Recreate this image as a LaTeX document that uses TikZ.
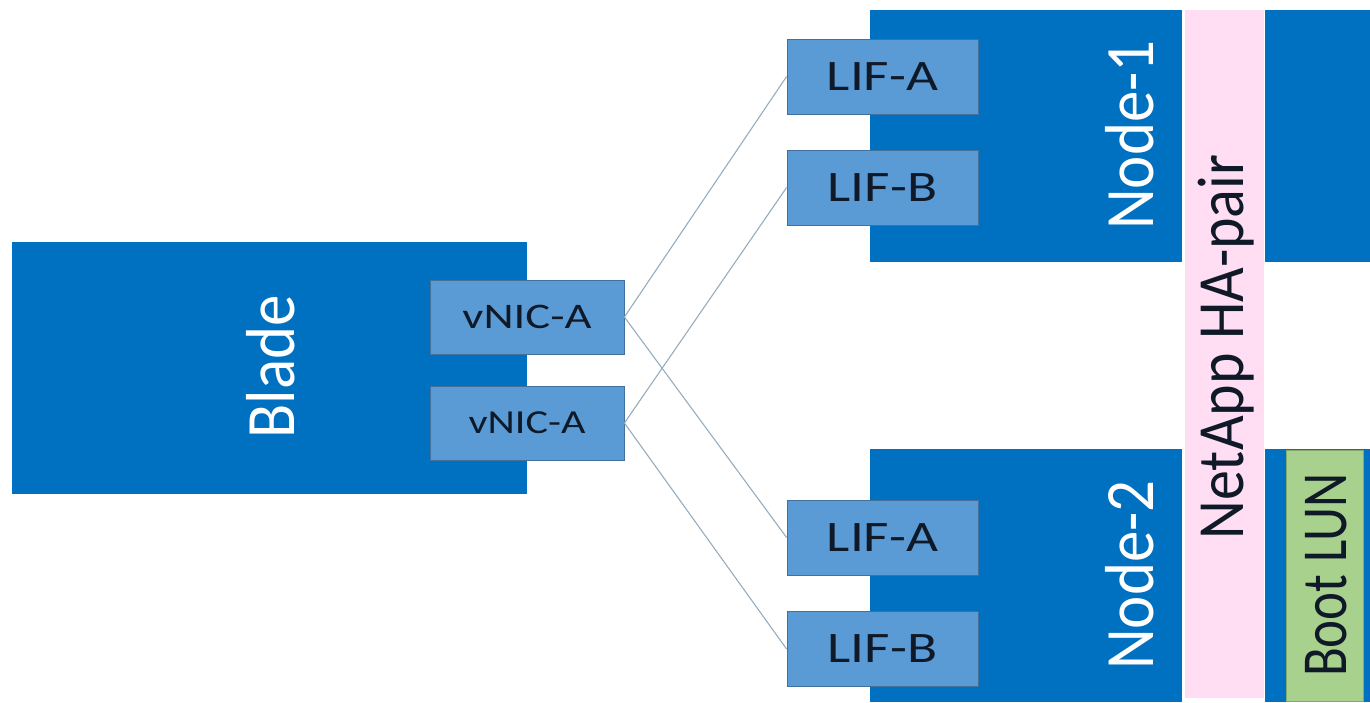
\documentclass[tikz,border=0pt]{standalone}
\usepackage{fontspec}
\setmainfont{Carlito}
\definecolor{dblue}{RGB}{0,112,192}
\definecolor{pblue}{RGB}{91,155,213}
\definecolor{pborder}{RGB}{65,113,156}
\definecolor{hapink}{RGB}{255,222,244}
\definecolor{lungreen}{RGB}{169,209,142}
\definecolor{lunborder}{RGB}{130,170,110}
\definecolor{conncol}{RGB}{150,172,188}
\definecolor{txtdark}{RGB}{15,25,40}
\tikzset{
  bigbox/.style={fill=dblue, draw=none, inner sep=0pt, minimum width=#1},
  portbox/.style={fill=pblue, draw=pborder, line width=0.8pt, inner sep=0pt, minimum width=191pt, minimum height=75pt},
  conn/.style={draw=conncol, line width=1.1pt},
  porttext/.style={text=txtdark, font=\fontsize{43.5}{50}\selectfont, xscale=1.27},
  vtext/.style={text=white, rotate=90, yscale=1.1, font=\fontsize{63}{70}\selectfont},
}
\begin{document}
\begin{tikzpicture}[x=1pt,y=-1pt]
\useasboundingbox (0,0) rectangle (1370,702);
% blade
\node[bigbox=515pt, minimum height=252pt] (blade) at (269.5,368) {};
\node[vtext] (bladetxt) at (271,367) {Blade};
\node[portbox, minimum width=194pt, minimum height=74pt] (v1) at (527,317) {};
\node[porttext, font=\fontsize{36}{42}\selectfont, xscale=1.02] (v1t) at (527,317) {vNIC-A};
\node[portbox, minimum width=194pt, minimum height=74pt] (v2) at (527,423) {};
\node[porttext, font=\fontsize{33.6}{40}\selectfont, xscale=0.99] (v2t) at (527,423) {vNIC-A};
% node 1
\node[bigbox=312pt, minimum height=252pt] (n1) at (1026,136) {};
\node[vtext] (n1t) at (1130,135) {Node-1};
\node[portbox] (la1) at (882.5,76.5) {};
\node[porttext] (la1t) at (882.5,76.5) {LIF-A};
\node[portbox] (lb1) at (882.5,187.5) {};
\node[porttext] (lb1t) at (882.5,187.5) {LIF-B};
% node 2
\node[bigbox=312pt, minimum height=253pt] (n2) at (1026,575.5) {};
\node[vtext] (n2t) at (1130,575) {Node-2};
\node[portbox] (la2) at (882.5,537.5) {};
\node[porttext] (la2t) at (882.5,537.5) {LIF-A};
\node[portbox] (lb2) at (882.5,649) {};
\node[porttext] (lb2t) at (882.5,649) {LIF-B};
% HA pair strip
\node[fill=hapink, draw=none, inner sep=0pt, minimum width=79pt, minimum height=688pt] (ha) at (1224.5,354) {};
\node[vtext, text=txtdark, font=\fontsize{60}{66}\selectfont] (hat) at (1226,347) {NetApp HA-pair};
% right side
\node[bigbox=105pt, minimum height=252pt] (r1) at (1317.5,136) {};
\node[bigbox=105pt, minimum height=253pt] (r2) at (1317.5,575.5) {};
\node[fill=lungreen, draw=lunborder, line width=0.8pt, inner sep=0pt, minimum width=77pt, minimum height=251pt] (lun) at (1324.5,576) {};
\node[vtext, text=txtdark, font=\fontsize{53}{60}\selectfont, yscale=1.1] (lunt) at (1326,575) {Boot LUN};
% connectors
\draw[conn] (v1.east) -- (la1.west);
\draw[conn] (v1.east) -- (la2.west);
\draw[conn] (v2.east) -- (lb1.west);
\draw[conn] (v2.east) -- (lb2.west);
\end{tikzpicture}
\end{document}
